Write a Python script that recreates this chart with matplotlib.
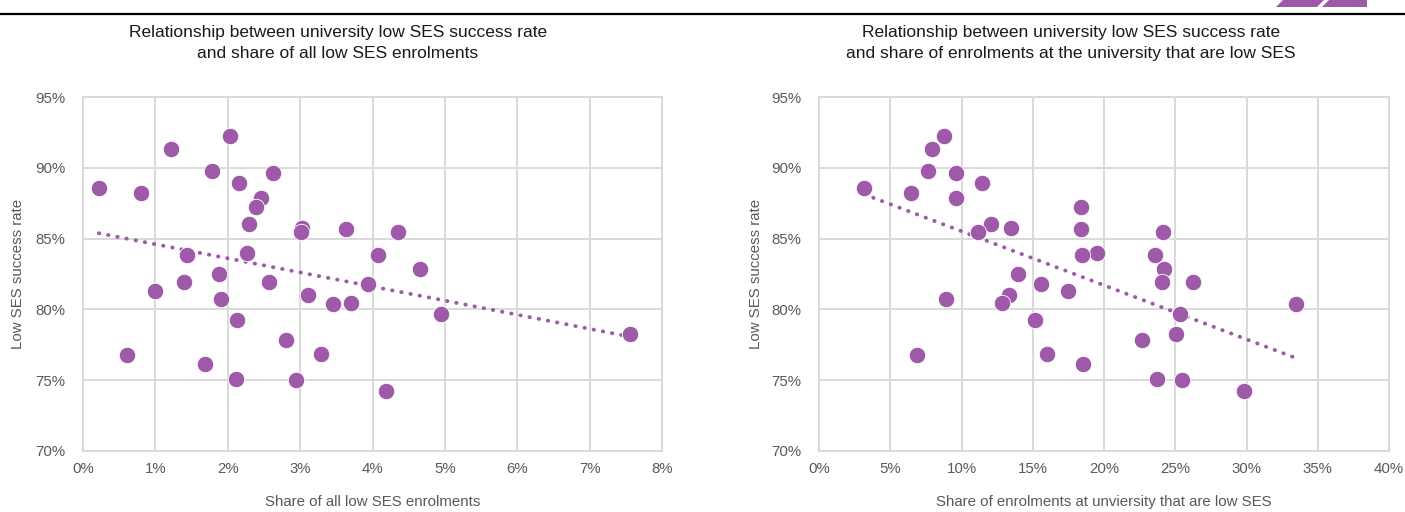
import numpy as np
import matplotlib.pyplot as plt
from matplotlib.ticker import PercentFormatter
from matplotlib.patches import Polygon

# low SES success rate per university (%), same universities in both panels
success_rate = [88.55, 88.24, 91.31, 92.27, 89.80, 88.95, 89.66, 87.89, 87.23, 86.06,
                85.72, 85.49, 85.68, 85.49, 83.82, 83.98, 83.84, 82.83, 82.52, 81.96,
                81.92, 81.30, 81.05, 81.80, 80.71, 80.35, 80.45, 79.23, 79.69, 78.25,
                76.75, 76.11, 75.07, 77.84, 75.02, 76.83, 74.25]
# share of all low SES enrolments (%)
share_all = [0.22, 0.80, 1.22, 2.03, 1.78, 2.16, 2.63, 2.46, 2.39, 2.29,
             3.03, 3.01, 3.63, 4.35, 1.44, 2.27, 4.07, 4.65, 1.88, 1.40,
             2.57, 0.99, 3.11, 3.94, 1.91, 3.46, 3.70, 2.13, 4.95, 7.56,
             0.61, 1.69, 2.11, 2.81, 2.94, 3.29, 4.19]
# share of enrolments at the university that are low SES (%)
share_uni = [3.19, 6.43, 7.96, 8.76, 7.68, 11.46, 9.58, 9.62, 18.36, 12.04,
             13.47, 11.17, 18.36, 24.13, 23.61, 19.48, 18.47, 24.18, 13.97, 26.22,
             24.08, 17.49, 13.31, 15.61, 8.92, 33.47, 12.82, 15.14, 25.35, 25.02,
             6.90, 18.50, 23.75, 22.68, 25.49, 16.01, 29.81]

titles = ["Relationship between university low SES success rate\nand share of all low SES enrolments",
          "Relationship between university low SES success rate\nand share of enrolments at the university that are low SES"]
xlabels = ["Share of all low SES enrolments", "Share of enrolments at unviersity that are low SES"]
ylabel = "Low SES success rate"
x_max = [0.08, 0.40]
x_step = [0.01, 0.05]

purple = "#9E59A8"
grid_col = "#D9D9D9"
txt_col = "#595959"

plt.rcParams['font.family'] = ['Liberation Sans', 'DejaVu Sans']

W, H = 1405, 512
fig = plt.figure(figsize=(W / 100, H / 100), dpi=100)

# axes boxes in pixels: left, right, top, bottom
boxes = [(83, 662, 97, 451), (819, 1389, 97, 451)]
title_x = [338, 1071]
ylabel_x = [18, 756]

y = np.array(success_rate) / 100
for i, xs in enumerate([share_all, share_uni]):
    l, r, t, b = boxes[i]
    ax = fig.add_axes([l / W, 1 - b / H, (r - l) / W, (b - t) / H])
    x = np.array(xs) / 100

    ax.set_xlim(0, x_max[i])
    ax.set_ylim(0.70, 0.95)
    ax.set_xticks(np.arange(0, x_max[i] + 1e-9, x_step[i]))
    ax.set_yticks(np.arange(0.70, 0.9501, 0.05))
    ax.xaxis.set_major_formatter(PercentFormatter(1.0, decimals=0))
    ax.yaxis.set_major_formatter(PercentFormatter(1.0, decimals=0))
    ax.grid(True, color=grid_col, linewidth=1.4, zorder=0)
    ax.set_axisbelow(True)
    for s in ax.spines.values():
        s.set_color(grid_col)
        s.set_linewidth(1.4)
    ax.tick_params(length=0, labelsize=10.8, labelcolor=txt_col, pad=8)
    ax.tick_params(axis='y', pad=12.5)

    ax.scatter(x, y, s=140, color=purple, edgecolor='white', linewidth=0.6, zorder=3)

    # linear trendline over the data range
    k, c = np.polyfit(x, y, 1)
    tx = np.array([x.min(), x.max()])
    ax.plot(tx, k * tx + c, color=purple, linewidth=2.8, linestyle=(0, (0.1, 2.3)),
            dash_capstyle='round', zorder=2)

    ax.set_xlabel(xlabels[i], fontsize=10.8, color=txt_col)
    ax.xaxis.set_label_coords(0.5, (b - 502) / (b - t))
    ax.xaxis.label.set_va('center')
    ax.set_ylabel(ylabel, fontsize=10.8, color=txt_col)
    ax.yaxis.set_label_coords((ylabel_x[i] - l) / (r - l), 0.5)
    ax.yaxis.label.set_ha('center')
    ax.yaxis.label.set_va('center')

    fig.text(title_x[i] / W, 1 - 43 / H, titles[i], ha='center', va='center',
             fontsize=12.5, color='#1A1A1A', linespacing=1.5)

# header rule and corner decoration
fig.add_artist(plt.Line2D([0, 1], [1 - 14 / H, 1 - 14 / H], color='black', linewidth=1.6))
for pts in [[(1276, 7), (1317, 7), (1324, 0), (1283, 0)],
            [(1322, 7), (1367, 7), (1367, 0), (1329, 0)]]:
    fig.add_artist(Polygon([(px / W, 1 - py / H) for px, py in pts], closed=True,
                           transform=fig.transFigure, color=purple, linewidth=0))

plt.savefig("out.png", dpi=100)
